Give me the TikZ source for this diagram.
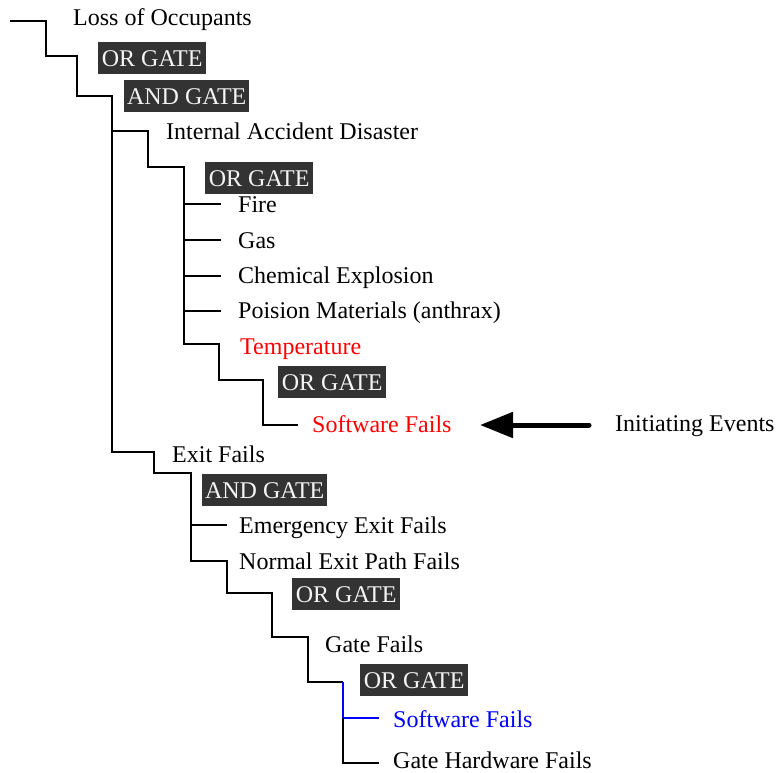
\documentclass[tikz,border=0pt]{standalone}
\usepackage{fontspec}
\setmainfont{Liberation Serif}
\usetikzlibrary{arrows.meta}
\definecolor{gatebg}{HTML}{333333}
\definecolor{gatefg}{HTML}{F4F4F4}
\definecolor{hotred}{HTML}{FF0000}
\definecolor{swblue}{HTML}{0000FF}
\tikzset{
  evtext/.style={anchor=base west, inner sep=0pt, font=\fontsize{24pt}{28pt}\selectfont},
  gatebox/.style={anchor=north west, fill=gatebg, text=gatefg, inner sep=0pt,
    minimum height=32pt, text height=19pt, text depth=3pt,
    font=\fontsize{24pt}{28pt}\selectfont},
  orgate/.style={gatebox, minimum width=108pt},
  andgate/.style={gatebox, minimum width=125pt},
  branch/.style={draw=black, line width=1.2pt},
  bluebranch/.style={draw=swblue, line width=1.2pt},
  initarrow/.style={line width=5pt, line cap=round,
    -{Triangle[length=33pt, width=25pt]}},
}
\begin{document}
\begin{tikzpicture}[x=1pt, y=-1pt]
\useasboundingbox (0,0) rectangle (777,773);

% ---- event and gate labels ----
\node[evtext] (loss) at (73,26) {Loss of Occupants};
\node[orgate] (or1) at (98,42) {OR GATE};
\node[andgate] (and1) at (124,80) {AND GATE};
\node[evtext] (internal) at (166,140) {Internal Accident Disaster};
\node[orgate] (or2) at (205,162) {OR GATE};
\node[evtext] (fire) at (238,213) {Fire};
\node[evtext] (gas) at (238,248) {Gas};
\node[evtext] (chem) at (238,283) {Chemical Explosion};
\node[evtext] (poison) at (238,318) {Poision Materials (anthrax)};
\node[evtext, text=hotred] (temp) at (240,354) {Temperature};
\node[orgate] (or3) at (278,366) {OR GATE};
\node[evtext, text=hotred] (swA) at (312,432) {Software Fails};
\node[evtext] (init) at (615,431) {Initiating Events};
\node[evtext] (exit) at (172,462) {Exit Fails};
\node[andgate] (and2) at (202,474) {AND GATE};
\node[evtext] (emerg) at (239,533) {Emergency Exit Fails};
\node[evtext] (normal) at (239,569) {Normal Exit Path Fails};
\node[orgate] (or4) at (292,578) {OR GATE};
\node[evtext] (gate) at (325,652) {Gate Fails};
\node[orgate] (or5) at (360,664) {OR GATE};
\node[evtext, text=swblue] (swB) at (393,727) {Software Fails};
\node[evtext] (hw) at (393,768) {Gate Hardware Fails};

% ---- junction points of the tree ----
\coordinate (root) at (10,21);
\coordinate (trunk) at (112,96);
\coordinate (intJ) at (112,131);
\coordinate (orTwoJ) at (184,167);
\coordinate (tempJ) at (184,344);
\coordinate (exitJ) at (112,452);
\coordinate (andTwoJ) at (191,473);
\coordinate (normJ) at (191,561);
\coordinate (orFiveJ) at (343,682);
\coordinate (swBJ) at (343,718);

% main stem down the left side
\draw[branch] (root) -- (46,21) -- (46,56) -- (77,56) -- (77,96) -- (trunk)
  -- (exitJ) -- (154,452) -- (154,473) -- (andTwoJ) -- (normJ)
  -- (227,561) -- (227,593) -- (272,593) -- (272,637) -- (308,637)
  -- (308,682) -- (orFiveJ);

% internal accident branch
\draw[branch] (intJ) -- (148,131) -- (148,167) -- (orTwoJ) -- (tempJ)
  -- (219,344) -- (219,380) -- (263,380) -- (263,425) -- (298,425);
\foreach \yy in {204,240,276,311}
  \draw[branch] (184,\yy) -- (221,\yy);

% exit branch leaves
\draw[branch] (191,525) -- (227,525);
\draw[bluebranch] (orFiveJ) -- (swBJ) -- (379,718);
\draw[branch] (swBJ) -- (343,763) -- (379,763);

% initiating event pointer
\coordinate (arrowTail) at (589,425);
\coordinate (arrowTip) at (480,425);
\draw[initarrow] (arrowTail) -- (arrowTip);
\end{tikzpicture}
\end{document}
